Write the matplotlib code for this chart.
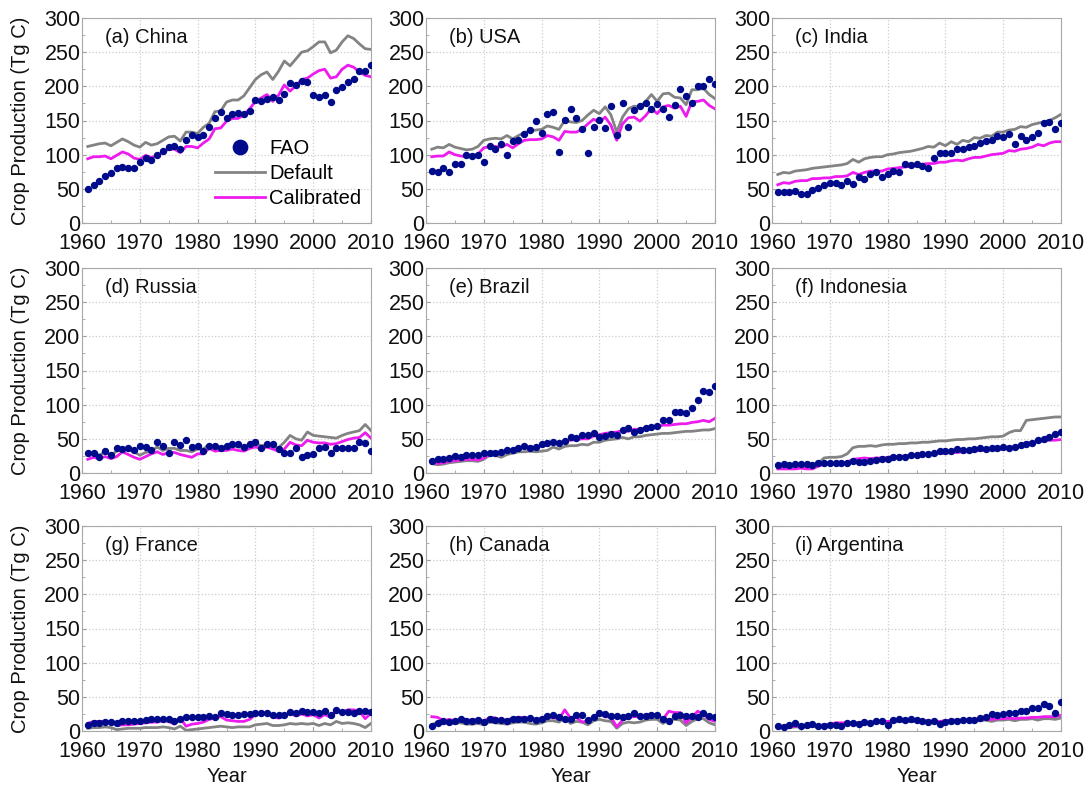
import numpy as np
import matplotlib
matplotlib.use('Agg')
import matplotlib.pyplot as plt
from matplotlib.ticker import MultipleLocator

plt.rcParams['font.family'] = ['Liberation Sans', 'DejaVu Sans']

years = np.arange(1961, 2011)

# (a) China
china_fao = [50, 55, 62, 69, 73, 80, 82, 80, 80, 89,
             95, 92, 100, 106, 111, 112, 109, 122, 129, 126,
             129, 141, 154, 162, 154, 159, 161, 159, 164, 180,
             178, 181, 185, 180, 189, 205, 202, 208, 207, 187,
             184, 187, 177, 194, 199, 207, 211, 223, 223, 231]
china_def = [112, 114, 116, 117, 113, 118, 123, 119, 114, 111,
             118, 114, 116, 121, 126, 127, 120, 133, 133, 131,
             140, 146, 163, 164, 177, 180, 180, 186, 198, 210,
             217, 221, 210, 222, 237, 230, 240, 250, 252, 258,
             265, 265, 249, 253, 265, 274, 270, 262, 255, 254]
china_cal = [94, 97, 97, 98, 94, 99, 104, 101, 95, 93,
             99, 96, 98, 104, 108, 108, 103, 112, 112, 110,
             117, 123, 138, 139, 149, 153, 153, 158, 167, 178,
             183, 188, 178, 187, 202, 193, 201, 210, 212, 218,
             223, 225, 212, 214, 225, 231, 228, 221, 216, 214]

# (b) USA
usa_fao = [76, 75, 81, 75, 86, 87, 99, 98, 99, 90,
           112, 109, 116, 99, 120, 122, 130, 136, 150, 132,
           159, 162, 104, 151, 167, 153, 138, 103, 140, 151,
           139, 171, 129, 176, 140, 166, 171, 176, 167, 174,
           167, 155, 172, 196, 186, 175, 201, 200, 211, 203]
usa_def = [108, 111, 110, 115, 111, 109, 107, 108, 112, 121,
           123, 124, 123, 128, 123, 128, 132, 135, 136, 137,
           142, 140, 137, 150, 148, 147, 150, 158, 165, 160,
           170, 158, 133, 155, 167, 171, 170, 178, 188, 178,
           189, 190, 184, 183, 173, 195, 195, 197, 188, 182]
usa_cal = [97, 98, 98, 104, 100, 98, 97, 98, 101, 110,
           112, 112, 111, 115, 110, 116, 121, 122, 122, 123,
           128, 126, 121, 134, 133, 133, 137, 145, 152, 147,
           155, 143, 121, 145, 154, 155, 149, 157, 168, 160,
           170, 172, 168, 171, 156, 178, 178, 180, 172, 167]

# (c) India
india_fao = [45, 45, 45, 47, 43, 43, 48, 51, 55, 59,
             58, 55, 61, 57, 67, 64, 72, 75, 67, 71,
             76, 74, 87, 85, 86, 83, 81, 95, 102, 102,
             102, 108, 109, 111, 113, 117, 120, 121, 128, 126,
             130, 115, 127, 121, 126, 131, 146, 148, 137, 146]
india_def = [71, 74, 73, 76, 77, 78, 80, 81, 82, 83,
             84, 85, 87, 93, 89, 94, 96, 97, 97, 100,
             101, 103, 104, 105, 107, 109, 112, 111, 117, 113,
             119, 115, 121, 119, 125, 124, 128, 127, 133, 133,
             136, 137, 141, 140, 144, 146, 148, 150, 154, 159]
india_cal = [56, 59, 58, 61, 62, 62, 65, 65, 66, 66,
             68, 68, 69, 74, 71, 74, 76, 76, 76, 79,
             80, 81, 82, 83, 84, 86, 87, 87, 89, 89,
             91, 92, 91, 94, 96, 96, 98, 100, 101, 102,
             106, 105, 108, 109, 111, 115, 113, 117, 119, 119]

# (d) Russia
russia_fao = [29, 29, 23, 32, 27, 37, 35, 37, 34, 40,
              38, 33, 46, 40, 30, 46, 41, 49, 38, 39,
              32, 39, 40, 37, 39, 43, 43, 38, 42, 46,
              36, 43, 42, 35, 29, 29, 36, 24, 26, 28,
              37, 38, 30, 37, 37, 36, 37, 46, 44, 32]
russia_def = [28, 30, 26, 31, 26, 32, 37, 34, 31, 26,
              30, 32, 38, 33, 36, 36, 33, 33, 31, 35,
              35, 42, 37, 38, 38, 40, 38, 37, 43, 43,
              40, 41, 38, 37, 45, 55, 50, 48, 60, 55,
              54, 53, 52, 51, 55, 58, 60, 62, 71, 62]
russia_cal = [20, 23, 21, 24, 21, 24, 31, 27, 23, 20,
              24, 28, 31, 27, 30, 30, 27, 25, 23, 28,
              28, 36, 32, 33, 33, 35, 33, 32, 36, 38,
              36, 38, 35, 32, 35, 45, 41, 40, 48, 45,
              44, 44, 42, 43, 46, 49, 51, 52, 59, 51]

# (e) Brazil
brazil_fao = [18, 20, 20, 22, 25, 23, 26, 26, 27, 29,
              30, 29, 31, 33, 34, 37, 39, 37, 38, 43,
              44, 45, 44, 47, 52, 51, 56, 55, 58, 53,
              54, 57, 56, 63, 66, 60, 63, 66, 68, 69,
              77, 77, 90, 90, 88, 95, 107, 120, 118, 127]
brazil_def = [14, 12, 13, 15, 16, 17, 18, 18, 17, 20,
              26, 26, 23, 27, 29, 31, 31, 32, 31, 32,
              33, 38, 35, 39, 40, 40, 42, 41, 45, 45,
              48, 49, 50, 52, 50, 53, 53, 55, 56, 57,
              58, 58, 59, 60, 61, 61, 62, 63, 63, 65]
brazil_cal = [16, 14, 15, 17, 18, 19, 20, 20, 19, 22,
              28, 30, 28, 32, 34, 37, 38, 38, 37, 40,
              41, 45, 43, 47, 48, 49, 50, 50, 54, 56,
              58, 59, 60, 62, 61, 64, 64, 66, 67, 68,
              70, 70, 71, 72, 72, 74, 75, 77, 75, 80]

# (f) Indonesia
indo_fao = [12, 13, 12, 13, 13, 13, 12, 14, 14, 15,
            15, 14, 15, 17, 16, 16, 17, 19, 20, 21,
            24, 23, 24, 27, 27, 28, 28, 30, 32, 32,
            32, 35, 34, 33, 35, 37, 35, 36, 37, 38,
            37, 38, 41, 43, 44, 48, 50, 53, 57, 60]
indo_def = [8, 9, 9, 9, 9, 9, 9, 14, 22, 23,
            23, 24, 28, 37, 39, 39, 40, 39, 41, 42,
            42, 43, 43, 44, 44, 45, 45, 46, 47, 47,
            48, 49, 49, 50, 50, 51, 52, 53, 53, 54,
            59, 62, 62, 77, 78, 79, 80, 81, 82, 82]
indo_cal = [6, 6, 6, 6, 7, 6, 6, 10, 13, 13,
            14, 14, 16, 20, 21, 22, 21, 22, 22, 23,
            24, 24, 25, 26, 26, 27, 27, 28, 29, 29,
            30, 30, 31, 31, 32, 33, 33, 34, 34, 35,
            37, 39, 39, 44, 45, 46, 47, 48, 48, 49]

# (g) France
france_fao = [9, 12, 12, 13, 13, 12, 14, 15, 14, 15,
              16, 17, 18, 18, 17, 14, 17, 20, 20, 21,
              20, 22, 21, 26, 25, 23, 24, 25, 25, 26,
              27, 26, 24, 24, 23, 28, 27, 29, 28, 28,
              26, 30, 24, 31, 28, 28, 26, 30, 30, 28]
france_def = [4, 5, 5, 6, 5, 2, 3, 4, 4, 4,
              5, 5, 5, 6, 5, 3, 7, 1, 2, 3,
              4, 5, 6, 7, 6, 5, 6, 6, 6, 9,
              10, 11, 8, 8, 9, 11, 10, 11, 10, 11,
              8, 11, 9, 14, 11, 12, 11, 9, 5, 11]
france_cal = [11, 14, 14, 14, 14, 8, 9, 9, 10, 11,
              12, 13, 13, 15, 14, 10, 19, 7, 10, 11,
              13, 17, 19, 21, 16, 15, 14, 14, 17, 24,
              25, 27, 20, 19, 22, 26, 22, 25, 22, 24,
              19, 24, 20, 29, 28, 31, 31, 29, 18, 26]

# (h) Canada
canada_fao = [7, 12, 14, 13, 14, 17, 15, 14, 16, 13,
              18, 16, 16, 14, 17, 18, 18, 19, 16, 18,
              22, 23, 21, 18, 17, 24, 23, 16, 21, 26,
              25, 22, 22, 21, 22, 26, 22, 22, 24, 23,
              18, 15, 22, 23, 22, 22, 20, 26, 22, 21]
canada_def = [9, 13, 12, 11, 11, 12, 10, 10, 11, 9,
              13, 12, 11, 10, 12, 13, 13, 11, 10, 12,
              15, 15, 13, 19, 11, 14, 13, 9, 15, 17,
              15, 14, 4, 11, 13, 12, 13, 16, 17, 17,
              11, 17, 17, 16, 8, 14, 18, 18, 12, 9]
canada_cal = [21, 20, 15, 17, 15, 17, 16, 16, 17, 14,
              20, 19, 16, 16, 19, 20, 20, 18, 16, 19,
              20, 20, 17, 31, 19, 20, 13, 15, 20, 25,
              21, 20, 6, 16, 20, 21, 21, 24, 24, 24,
              17, 29, 27, 27, 12, 20, 29, 24, 17, 14]

# (i) Argentina
arg_fao = [7, 6, 9, 11, 8, 9, 10, 8, 8, 9,
           9, 7, 12, 11, 10, 13, 12, 14, 14, 9,
           16, 17, 16, 18, 16, 15, 13, 15, 10, 13,
           14, 15, 16, 16, 16, 19, 21, 25, 24, 25,
           27, 27, 30, 29, 34, 33, 40, 37, 26, 43]
arg_def = [5, 5, 5, 6, 6, 6, 7, 7, 8, 9,
           10, 10, 11, 11, 11, 12, 12, 12, 13, 13,
           13, 14, 14, 14, 14, 14, 14, 13, 13, 14,
           14, 15, 15, 15, 15, 15, 16, 14, 16, 16,
           17, 15, 17, 17, 18, 16, 18, 18, 17, 19]
arg_cal = [6, 6, 6, 7, 7, 7, 8, 8, 9, 10,
           12, 12, 12, 12, 12, 13, 13, 13, 14, 14,
           15, 15, 15, 15, 15, 15, 15, 14, 14, 15,
           16, 16, 16, 16, 16, 17, 17, 17, 18, 18,
           19, 18, 19, 19, 20, 20, 21, 21, 21, 23]

titles = ['(a) China', '(b) USA', '(c) India',
          '(d) Russia', '(e) Brazil', '(f) Indonesia',
          '(g) France', '(h) Canada', '(i) Argentina']
fao_all = [china_fao, usa_fao, india_fao, russia_fao, brazil_fao, indo_fao,
           france_fao, canada_fao, arg_fao]
def_all = [china_def, usa_def, india_def, russia_def, brazil_def, indo_def,
           france_def, canada_def, arg_def]
cal_all = [china_cal, usa_cal, india_cal, russia_cal, brazil_cal, indo_cal,
           france_cal, canada_cal, arg_cal]

fig = plt.figure(figsize=(10.91, 7.92), dpi=100)

lefts = [82 / 1091, 426 / 1091, 772 / 1091]
bottoms = [1 - 223 / 792, 1 - 473 / 792, 1 - 731 / 792]
w = 289 / 1091
h = 205 / 792

for i in range(9):
    r, c = divmod(i, 3)
    ax = fig.add_axes([lefts[c], bottoms[r], w, h])
    ax.plot(years, fao_all[i], 'o', color='#000b8c', ms=4.3, label='FAO', zorder=3)
    ax.plot(years, def_all[i], '-', color='#838383', lw=2, label='Default', zorder=2)
    ax.plot(years, cal_all[i], '-', color='#ee1bee', lw=2, label='Calibrated', zorder=2)
    ax.set_xlim(1960, 2010)
    ax.set_ylim(0, 300)
    ax.set_xticks(range(1960, 2011, 10))
    ax.set_yticks(range(0, 301, 50))
    ax.xaxis.set_minor_locator(MultipleLocator(5))
    ax.yaxis.set_minor_locator(MultipleLocator(25))
    ax.tick_params(which='both', direction='in', colors='#a0a0a0',
                   labelcolor='#111111', labelsize=15.5, pad=1)
    ax.tick_params(axis='x', which='major', pad=7)
    ax.tick_params(which='major', length=3)
    ax.tick_params(which='minor', length=2)
    ax.grid(True, which='major', ls=':', color='#cccccc', lw=0.9)
    for s in ax.spines.values():
        s.set_color('#a8a8a8')
    ax.text(0.08, 0.95, titles[i], transform=ax.transAxes, fontsize=14.5,
            va='top', ha='left', color='#111111')
    if c == 0:
        ax.set_ylabel('Crop Production (Tg C)', fontsize=14.5, labelpad=10,
                      color='#111111')
    if r == 2:
        ax.set_xlabel('Year', fontsize=14.5, labelpad=4, color='#111111')
    if i == 0:
        ax.legend(loc='upper left', bbox_to_anchor=(0.46, 0.41), frameon=False,
                  fontsize=14.5, handlelength=2.5, handletextpad=0.2,
                  labelspacing=0.3, markerscale=2.4, borderaxespad=0,
                  borderpad=0)

fig.savefig('out.png', dpi=100)
